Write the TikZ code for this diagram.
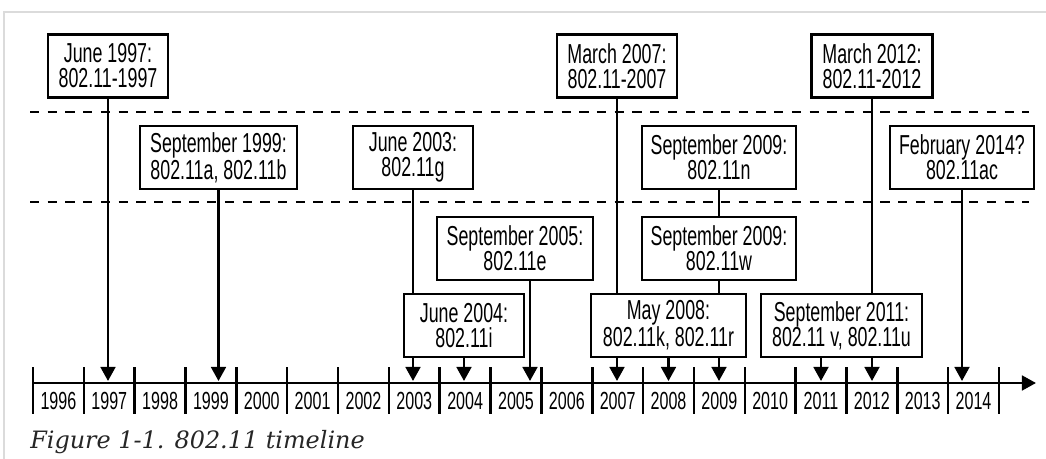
\documentclass[tikz,border=0pt]{standalone}
\usepackage{fontspec}
\newfontfamily\condsans{Liberation Sans}[FakeStretch=0.65]
\newfontfamily\capserif{DejaVu Serif}
\usetikzlibrary{positioning,arrows.meta}

\begin{document}
\begin{tikzpicture}[x=0.025cm, y=-0.025cm,
        event/.style={rectangle, draw, line width=1.8pt, fill=white, minimum height=1.575cm, inner sep=0pt, align=center, font=\condsans\fontsize{19.5}{17.8}\selectfont},
        stem/.style={line width=1.8pt},
        arrow/.style={-{Triangle[length=10pt, width=10.5pt]}, line width=1.8pt},
        axistick/.style={line width=1.8pt},
        year/.style={inner sep=0pt, font=\condsans\fontsize{17.6}{17}\selectfont},
        band/.style={line width=1.8pt, dash pattern=on 6.6pt off 6pt},
        caption/.style={anchor=west, inner sep=0pt, black!85, font=\capserif\itshape\fontsize{17}{20}\selectfont}
    ]
    \useasboundingbox (0,0) rectangle (1046,459);
    % Frame
    \draw[black!14, line width=1pt] (4,459) -- (4,12) -- (1046,12);

    % Bands
    \draw[band] (30,112) -- (1029,112);
    \draw[band] (30,202) -- (1029,202);

    % Axis
    \coordinate (ax0) at (33,383);
    \coordinate (axend) at (1036,383);
    \draw[arrow] (ax0) -- (axend);
    \foreach \i in {0,...,19} {
        \draw[axistick] (33+\i*50.84,367) -- (33+\i*50.84,414);
    }
    \foreach \i [evaluate=\i as \yr using int(1996+\i)] in {0,...,18} {
        \node[year] (y\yr) at (58.42+\i*50.84,400.5) {\yr};
    }

    % Arrow ends on the axis
    \coordinate (p97) at (108,381);
    \coordinate (p99) at (218.5,381);
    \coordinate (p03) at (413,381);
    \coordinate (p04) at (464,381);
    \coordinate (p05) at (530,381);
    \coordinate (p07) at (617,381);
    \coordinate (p08) at (668.5,381);
    \coordinate (p09) at (719,381);
    \coordinate (p11) at (821,381);
    \coordinate (p12) at (872,381);
    \coordinate (p14) at (962,381);

    % Standards (top row)
    \node[event, minimum width=3cm] (std97) at (108,66) {June 1997:\\802.11-1997};
    \node[event, minimum width=3cm] (std07) at (617,66) {March 2007:\\802.11-2007};
    \node[event, minimum width=3.025cm] (std12) at (872,66) {March 2012:\\802.11-2012};

    % Amendments
    \node[event, minimum width=3.925cm] (ab) at (218.5,157.5) {September 1999:\\802.11a, 802.11b};
    \node[event, minimum width=3cm] (g) at (413,157.5) {June 2003:\\802.11g};
    \node[event, minimum width=3.85cm] (n) at (719,157.5) {September 2009:\\802.11n};
    \node[event, minimum width=3.6cm] (ac) at (962,157.5) {February 2014?\\802.11ac};
    \node[event, minimum width=3.9cm] (e) at (515,248.5) {September 2005:\\802.11e};
    \node[event, minimum width=3.85cm] (w) at (719,248.5) {September 2009:\\802.11w};
    \node[event, minimum width=3cm] (i) at (464,325.5) {June 2004:\\802.11i};
    \node[event, minimum width=3.875cm] (kr) at (668.5,325.5) {May 2008:\\802.11k, 802.11r};
    \node[event, minimum width=4.025cm] (vu) at (841.5,325.5) {September 2011:\\802.11 v, 802.11u};

    % Connectors
    \draw[arrow] (std97.south) -- (p97);
    \draw[arrow] (ab.south) -- (p99);
    \draw[arrow] (ac.south) -- (p14);
    \draw[stem] (g.south) -- (g.south |- i.north);
    \draw[arrow] (p03 |- i.south) -- (p03);
    \draw[arrow] (i.south) -- (p04);
    \draw[arrow] (p05 |- e.south) -- (p05);
    \draw[stem] (std07.south) -- (std07.south |- kr.north);
    \draw[arrow] (p07 |- kr.south) -- (p07);
    \draw[arrow] (kr.south) -- (p08);
    \draw[stem] (n.south) -- (w.north);
    \draw[stem] (w.south) -- (w.south |- kr.north);
    \draw[arrow] (p09 |- kr.south) -- (p09);
    \draw[stem] (std12.south) -- (std12.south |- vu.north);
    \draw[arrow] (p11 |- vu.south) -- (p11);
    \draw[arrow] (p12 |- vu.south) -- (p12);

    % Caption
    \node[caption] (cap) at (30,442) {Figure 1-1. 802.11 timeline};
\end{tikzpicture}
\end{document}
